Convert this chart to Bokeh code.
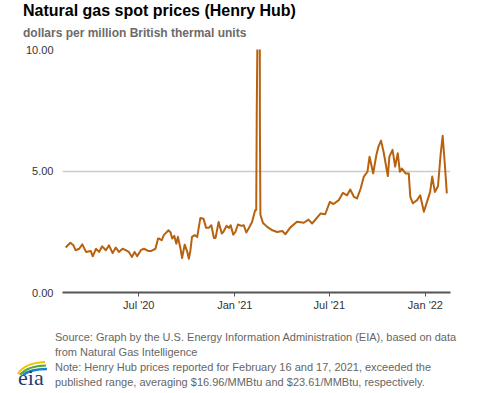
import pandas as pd
from bokeh.plotting import figure
from bokeh.layouts import column
from bokeh.models import (Range1d, MonthsTicker, DatetimeTickFormatter,
                          FixedTicker, NumeralTickFormatter, Div)
from bokeh.embed import file_html
from bokeh.resources import INLINE

# ---- data ----
dates = [
    "2020-02-12", "2020-02-21", "2020-02-27", "2020-03-02", "2020-03-09", "2020-03-15",
    "2020-03-22", "2020-03-31", "2020-04-04", "2020-04-10", "2020-04-16", "2020-04-22",
    "2020-04-29", "2020-05-05", "2020-05-12", "2020-05-18", "2020-05-24", "2020-05-31",
    "2020-06-06", "2020-06-12", "2020-06-18", "2020-06-23", "2020-06-28", "2020-07-05",
    "2020-07-11", "2020-07-19", "2020-07-25", "2020-08-02", "2020-08-07", "2020-08-09",
    "2020-08-14", "2020-08-18", "2020-08-27", "2020-08-31", "2020-09-03", "2020-09-07",
    "2020-09-11", "2020-09-14", "2020-09-19", "2020-09-22", "2020-09-27", "2020-10-02",
    "2020-10-05", "2020-10-08", "2020-10-11", "2020-10-16", "2020-10-21", "2020-10-27",
    "2020-11-02", "2020-11-07", "2020-11-12", "2020-11-17", "2020-11-22", "2020-11-25",
    "2020-12-01", "2020-12-07", "2020-12-10", "2020-12-16", "2020-12-21", "2020-12-24",
    "2020-12-29", "2021-01-02", "2021-01-07", "2021-01-14", "2021-01-18", "2021-01-23",
    "2021-01-29", "2021-02-03", "2021-02-06", "2021-02-09", "2021-02-11", "2021-02-12",
    "2021-02-16", "2021-02-17", "2021-02-18", "2021-02-19", "2021-02-24", "2021-03-04",
    "2021-03-14", "2021-03-23", "2021-04-02", "2021-04-08", "2021-04-17", "2021-04-30",
    "2021-05-13", "2021-05-22", "2021-05-29", "2021-06-14", "2021-06-23", "2021-07-02",
    "2021-07-09", "2021-07-19", "2021-07-27", "2021-08-04", "2021-08-10", "2021-08-17",
    "2021-08-23", "2021-08-30", "2021-09-05", "2021-09-12", "2021-09-16", "2021-09-23",
    "2021-09-29", "2021-10-03", "2021-10-08", "2021-10-13", "2021-10-21", "2021-10-24",
    "2021-10-30", "2021-11-04", "2021-11-09", "2021-11-13", "2021-11-17", "2021-11-24",
    "2021-11-30", "2021-12-03", "2021-12-08", "2021-12-16", "2021-12-22", "2021-12-29",
    "2022-01-04", "2022-01-10", "2022-01-14", "2022-01-19", "2022-01-25", "2022-01-30",
    "2022-02-03", "2022-02-07", "2022-02-11",
]
prices = [
    1.85, 2.05, 1.94, 1.74, 1.80, 1.98,
    1.67, 1.71, 1.49, 1.80, 1.67, 1.90,
    1.74, 1.94, 1.62, 1.85, 1.67, 1.80,
    1.74, 1.67, 1.46, 1.67, 1.49, 1.74,
    1.80, 1.71, 1.71, 1.80, 2.22, 2.22,
    2.15, 2.36, 2.56, 2.47, 2.22, 2.33,
    2.01, 2.29, 1.80, 1.42, 1.97, 1.67,
    1.39, 1.74, 2.29, 2.36, 2.29, 3.07,
    3.04, 2.66, 2.66, 2.77, 2.24, 2.24,
    2.90, 2.43, 2.49, 2.74, 2.66, 2.77,
    2.38, 2.49, 2.80, 2.74, 2.77, 2.47,
    2.70, 2.90, 3.15, 3.39, 3.40, 7.50,
    16.96, 23.61, 7.00, 3.20, 2.86, 2.70,
    2.56, 2.49, 2.53, 2.40, 2.67, 2.91,
    2.87, 3.00, 2.84, 3.25, 3.22, 3.73,
    3.64, 3.80, 4.10, 4.00, 4.24, 3.94,
    3.87, 4.28, 4.77, 4.97, 5.59, 4.90,
    5.66, 6.00, 6.25, 5.77, 4.79, 5.59,
    5.87, 5.18, 5.73, 4.97, 5.10, 4.90,
    4.90, 3.94, 3.67, 3.80, 4.00, 3.32,
    3.73, 4.14, 4.77, 4.14, 4.37, 5.66,
    6.45, 5.32, 4.08,
]
y_ticks = [0, 5, 10]
x_start, x_end = "2020-02-06", "2022-02-18"

title_text = "Natural gas spot prices (Henry Hub)"
subtitle_text = "dollars per million British thermal units"
footer_lines = [
    "Source: Graph by the U.S. Energy Information Administration (EIA), based on data",
    "from Natural Gas Intelligence",
    "Note: Henry Hub prices reported for February 16 and 17, 2021, exceeded the",
    "published range, averaging $16.96/MMBtu and $23.61/MMBtu, respectively.",
]
logo_text = "eia"

x = pd.to_datetime(dates)
FONT = "Liberation Sans"

# ---- header ----
header_html = (
    '<div style="position:relative;width:477px;height:40px;'
    'font-family:\'Liberation Sans\',Arial,sans-serif;">'
    f'<div style="position:absolute;left:23px;top:3px;font-size:16px;line-height:16px;'
    f'font-weight:bold;color:#000;white-space:nowrap;">{title_text}</div>'
    f'<div style="position:absolute;left:23px;top:27px;font-size:12px;line-height:12px;'
    f'font-weight:bold;color:#6b6b6b;white-space:nowrap;">{subtitle_text}</div>'
    '</div>'
)
header = Div(text=header_html, width=477, height=40, margin=(0, 0, 0, 0))

# ---- main chart ----
p = figure(width=477, height=280, output_backend="svg", toolbar_location=None,
           x_axis_type="datetime",
           x_range=Range1d(pd.Timestamp(x_start), pd.Timestamp(x_end)),
           y_range=Range1d(0, 10),
           min_border_left=62, min_border_right=27,
           min_border_top=9, min_border_bottom=28, margin=(0, 0, 0, 0))
p.outline_line_color = None
p.background_fill_color = "white"
p.border_fill_color = "white"

p.line(x, prices, line_color="#b8620f", line_width=2, line_join="round")

p.xgrid.visible = False
p.ygrid.ticker = FixedTicker(ticks=y_ticks)
p.ygrid.grid_line_color = "#cccccc"
p.ygrid.grid_line_width = 1.5

p.yaxis.ticker = FixedTicker(ticks=y_ticks)
p.yaxis.formatter = NumeralTickFormatter(format="0.00")
p.yaxis.axis_line_color = None
p.yaxis.major_tick_line_color = None
p.yaxis.minor_tick_line_color = None
p.yaxis.major_tick_out = 0
p.yaxis.major_label_standoff = 9
p.yaxis.major_label_text_font = FONT
p.yaxis.major_label_text_font_size = "11px"
p.yaxis.major_label_text_color = "#333333"

p.xaxis.ticker = MonthsTicker(months=[0, 6])
p.xaxis.formatter = DatetimeTickFormatter(months="%b '%y", days="%b '%y", context=None)
p.xaxis.axis_line_color = "#555555"
p.xaxis.axis_line_width = 2
p.xaxis.major_tick_line_color = "#555555"
p.xaxis.major_tick_line_width = 1
p.xaxis.major_tick_out = 4
p.xaxis.major_tick_in = 0
p.xaxis.minor_tick_line_color = None
p.xaxis.major_label_standoff = 2
p.xaxis.major_label_text_font = FONT
p.xaxis.major_label_text_font_size = "11px"
p.xaxis.major_label_text_color = "#333333"

# ---- footer with EIA logo ----
lines_html = "<br>".join(footer_lines)
footer_html = (
    '<div style="position:relative;width:477px;height:73px;'
    'font-family:\'Liberation Sans\',Arial,sans-serif;">'
    '<svg style="position:absolute;left:15px;top:39px;" width="34" height="16" '
    'viewBox="0 0 34 16">'
    '<path d="M3,15 Q9,4 30,3" stroke="#f2c300" stroke-width="2.2" fill="none"/>'
    '<path d="M5,16 Q12,7 31,6.5" stroke="#5aa832" stroke-width="2.2" fill="none"/>'
    '<path d="M8,16 Q15,10 32,10" stroke="#1c82c8" stroke-width="2.6" fill="none"/>'
    '</svg>'
    '<div style="position:absolute;left:18px;top:47px;font-family:\'Liberation Serif\',serif;'
    f'font-size:22px;line-height:21px;color:#1f3c73;">{logo_text}</div>'
    '<div style="position:absolute;left:55px;top:10px;font-size:11px;line-height:15px;'
    f'color:#666666;white-space:nowrap;">{lines_html}</div>'
    '</div>'
)
footer = Div(text=footer_html, width=477, height=73, margin=(0, 0, 0, 0))

layout = column(header, p, footer, spacing=0, margin=(0, 0, 0, 0))

open("out.html", "w").write(file_html(layout, INLINE))
